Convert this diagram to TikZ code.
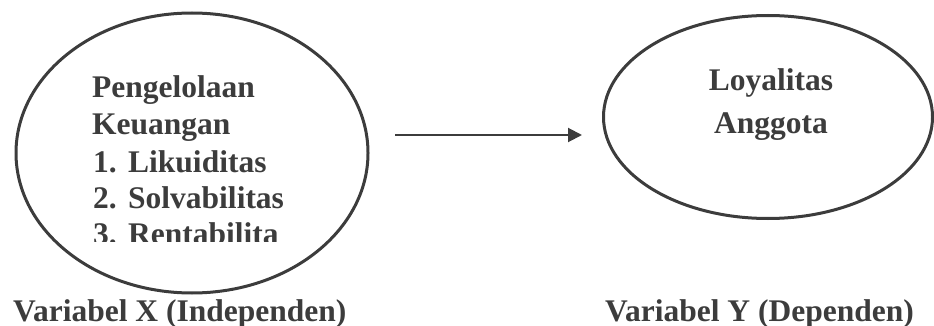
\documentclass[tikz,border=0pt]{standalone}
\usepackage{fontspec}
\setmainfont{Liberation Serif}
\usetikzlibrary{arrows.meta,shapes.geometric}
\definecolor{ink}{HTML}{3C3C3C}
\begin{document}
\begin{tikzpicture}[x=1pt,y=-1pt,
  oval/.style={draw=ink,line width=3pt,ellipse},
  lbl/.style={inner sep=0pt,anchor=base west,text=ink,font=\fontsize{31.5}{36}\selectfont\bfseries},
  varlabel/.style={inner sep=0pt,anchor=base west,text=ink,font=\fontsize{31.5}{36}\selectfont\bfseries},
  link/.style={draw=ink,line width=2pt,-{Triangle[length=14pt,width=14pt]}}]
\useasboundingbox (0,0) rectangle (934,326);
% ellipses
\node[oval,minimum width=352pt,minimum height=280pt] (ex) at (192,153) {};
\node[oval,minimum width=329pt,minimum height=203pt] (ey) at (768,117) {};
% left text
\node[lbl] (t1) at (92,98) {Pengelolaan};
\node[lbl] (t2) at (92,135) {Keuangan};
\node[lbl] (n1) at (93,172) {1.};
\node[lbl] (l1) at (128,172) {Likuiditas};
\node[lbl] (n2) at (93,208) {2.};
\node[lbl] (l2) at (128,208) {Solvabilitas};
\begin{scope}
\clip (60,200) rectangle (360,241);
\node[lbl] (n3) at (93,244) {3.};
\node[lbl] (l3) at (128,244) {Rentabilita};
\end{scope}
% right text
\node[lbl,anchor=base] (y1) at (771,91) {Loyalitas};
\node[lbl,anchor=base] (y2) at (771,134) {Anggota};
% arrow
\coordinate (a0) at (395,135);
\coordinate (a1) at (582,135);
\draw[link] (a0) -- (a1);
% captions
\node[varlabel] (cx) at (13,321) {Variabel X (Independen)};
\node[varlabel] (cy) at (605,321) {Variabel Y (Dependen)};
\end{tikzpicture}
\end{document}
